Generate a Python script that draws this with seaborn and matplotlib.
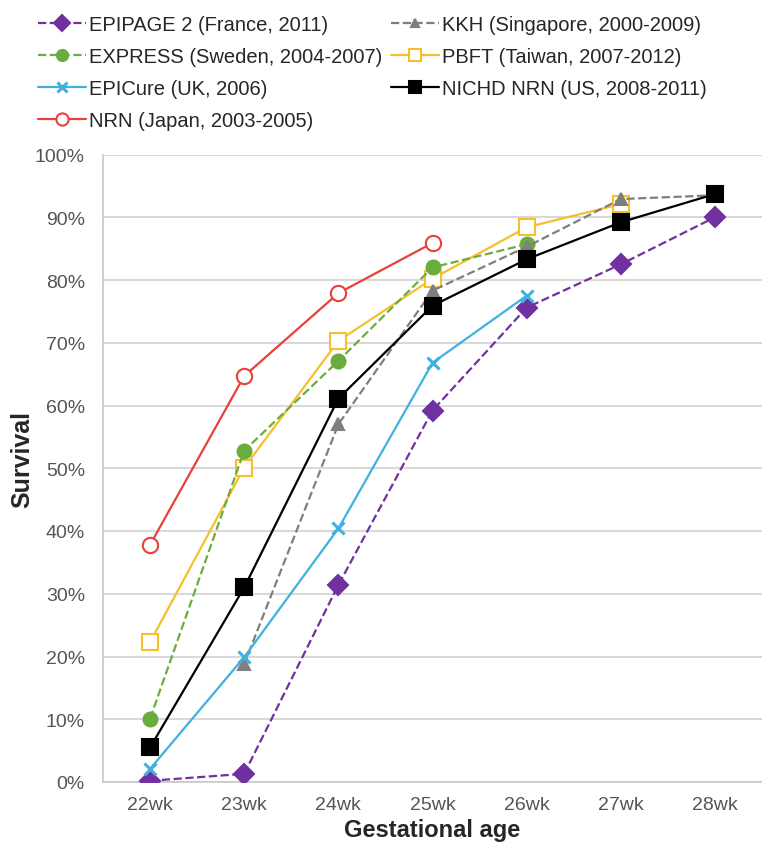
import numpy as np
import matplotlib
matplotlib.use("Agg")
import matplotlib.pyplot as plt
import seaborn as sns

# data (survival in %)
weeks = ["22wk", "23wk", "24wk", "25wk", "26wk", "27wk", "28wk"]

epipage = [0.2, 1.3, 31.4, 59.2, 75.6, 82.5, 90.0]       # 22-28
kkh = [18.8, 57.0, 78.3, 85.3, 92.9, 93.5]               # 23-28
express = [10.1, 52.8, 67.1, 82.0, 85.7]                 # 22-26
pbft = [22.3, 50.1, 70.3, 80.2, 88.4, 92.1]              # 22-27
epicure = [2.1, 19.9, 40.4, 66.8, 77.5]                  # 22-26
nichd = [5.5, 31.0, 61.1, 75.9, 83.3, 89.2, 93.7]        # 22-28
nrn = [37.8, 64.7, 77.9, 85.9]                           # 22-25

sns.set_style("white")
plt.rcParams["font.family"] = ["Liberation Sans", "DejaVu Sans"]

fig = plt.figure(figsize=(7.62, 8.45), dpi=100)
ax = fig.add_axes([103 / 762, 1 - 783 / 845, 659 / 762, (783 - 155.5) / 845])

# label, values, first week index, color, linestyle, marker, size, filled, zorder
series = [
    ("EPIPAGE 2 (France, 2011)", epipage, 0, "#7030a0", "--", "D", 10, True, 5),
    ("KKH (Singapore, 2000-2009)", kkh, 1, "#7f7f7f", "--", "^", 8, True, 4),
    ("EXPRESS (Sweden, 2004-2007)", express, 0, "#6aad3d", "--", "o", 10, True, 3),
    ("PBFT (Taiwan, 2007-2012)", pbft, 0, "#f5c02c", "-", "s", 11, False, 2),
    ("EPICure (UK, 2006)", epicure, 0, "#3fb0e0", "-", "x", 9, True, 6),
    ("NICHD NRN (US, 2008-2011)", nichd, 0, "#000000", "-", "s", 11, True, 7),
    ("NRN (Japan, 2003-2005)", nrn, 0, "#e8413b", "-", "o", 11, False, 8),
]

handles = {}
for label, vals, start, color, ls, marker, ms, filled, z in series:
    x = np.arange(start, start + len(vals))
    y = np.array(vals) / 100
    sns.lineplot(x=x, y=y, ax=ax, color=color, linestyle=ls, linewidth=1.6,
                 marker=marker, markersize=ms,
                 markerfacecolor=color if filled else "white",
                 markeredgecolor=color,
                 markeredgewidth=2.2 if marker == "x" else 1.5,
                 label=label, legend=False, zorder=z)
    handles[label] = ax.lines[-1]

ax.set_xlim(-0.5, -0.5 + 659 / 94.5)
ax.set_ylim(0, 1)
ax.set_xticks(range(len(weeks)))
ax.set_xticklabels(weeks)
ax.set_xticks(np.arange(-0.5, 6.6, 1), minor=True)
ax.set_yticks(np.linspace(0, 1, 11))
ax.set_yticklabels([f"{int(v)}%" for v in np.linspace(0, 100, 11)])

ax.grid(axis="y", color="#d9d9d9", linewidth=1.5)
ax.set_axisbelow(True)
for s in ["top", "right"]:
    ax.spines[s].set_visible(False)
for s in ["left", "bottom"]:
    ax.spines[s].set_color("#c8c8c8")
    ax.spines[s].set_linewidth(1.2)

ax.tick_params(axis="x", which="major", length=0, labelsize=14,
               labelcolor="#555555", pad=10)
ax.tick_params(axis="x", which="minor", length=5, color="#c8c8c8", width=1.2)
ax.tick_params(axis="y", length=6, color="#c8c8c8", width=1.2,
               labelsize=14, labelcolor="#555555", pad=7)

ax.set_xlabel("Gestational age", fontsize=17, fontweight="bold")
ax.set_ylabel("Survival", fontsize=18, fontweight="bold")
ax.xaxis.set_label_coords(0.5, -0.057)
ax.yaxis.set_label_coords(-0.105, 0.516)

# legend: column-major order so rows read EPIPAGE/KKH, EXPRESS/PBFT, ...
order = [0, 2, 4, 6, 1, 3, 5]
leg_h = [handles[series[i][0]] for i in order]
leg_l = [series[i][0] for i in order]
fig.legend(leg_h, leg_l, loc="upper left", ncol=2,
           bbox_to_anchor=(38 / 762, 1 - 16 / 845), frameon=False,
           fontsize=14.5, handlelength=2.4, handletextpad=0.15,
           columnspacing=0.4, labelspacing=0.65, borderaxespad=0,
           borderpad=0, markerscale=0.8)

fig.savefig("out.png", dpi=100)
